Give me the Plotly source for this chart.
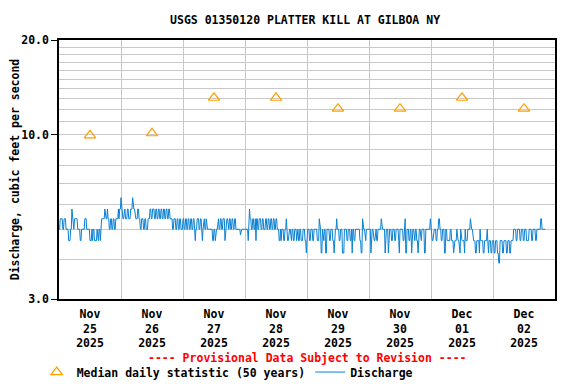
import numpy as np
import pandas as pd
import plotly.graph_objects as go

# ---- data ----
# discharge level codes (cfs) used by the 15-minute record
level_values = {"0": 3.9, "1": 4.2, "2": 4.6, "3": 4.8, "4": 5.0,
                "5": 5.2, "6": 5.4, "7": 5.8, "8": 6.3}

nov25 = ("4466664466" "6444422244" "7644666664" "4442244444" "6664444422"
         "2424422224" "2244266666" "6766676644" "6644664466" "667677")
nov26 = ("8776677666" "7766677787" "7766667766" "4466644664" "4466677667"
         "7766776677" "6677667766" "7766776666" "4466644664" "466444")
nov27 = ("6644664466" "4466446642" "4466644664" "2466446444" "4444442244"
         "2444664466" "4466624666" "4466446644" "6644444443" "444444")
nov28 = ("4444426766" "4466446266" "4466644664" "4466446644" "6644664466"
         "4442242444" "2244622244" "4224422444" "2442244222" "444221")
nov29 = ("4444224442" "2444442226" "4411422441" "1444422444" "2214446444"
         "2244411144" "4422444224" "1442244444" "4422116444" "224444")
nov30 = ("4441444222" "4422444446" "4444414444" "1444422444" "2244442144"
         "4442246114" "4422441444" "2244221444" "2244441144" "444446")
dec01 = ("4422444422" "4466442244" "4114422222" "4422212222" "4222114222"
         "2214222444" "4644422221" "1222214222" "2112222421" "222112")
dec02 = ("2211222110" "0222211222" "2112221122" "2244442244" "4422444224"
         "4422224444" "2244442244" "4444664444" "44")

discharge_codes = nov25 + nov26 + nov27 + nov28 + nov29 + nov30 + dec01 + dec02
discharge = [level_values[c] for c in discharge_codes]
discharge_time = pd.date_range("2025-11-25 00:00", periods=len(discharge), freq="15min")

median_dates = ["2025-11-25 12:00", "2025-11-26 12:00", "2025-11-27 12:00", "2025-11-28 12:00",
                "2025-11-29 12:00", "2025-11-30 12:00", "2025-12-01 12:00", "2025-12-02 12:00"]
median_values = [9.95, 10.1, 13.1, 13.1, 12.1, 12.1, 13.1, 12.1]

tick_dates = median_dates
tick_text = ["Nov<br>25<br>2025", "Nov<br>26<br>2025", "Nov<br>27<br>2025", "Nov<br>28<br>2025",
             "Nov<br>29<br>2025", "Nov<br>30<br>2025", "Dec<br>01<br>2025", "Dec<br>02<br>2025"]
grid_dates = ["2025-11-26", "2025-11-27", "2025-11-28", "2025-11-29",
              "2025-11-30", "2025-12-01", "2025-12-02"]
y_ticks = [3, 10, 20]
y_tick_text = ["3.0", "10.0", "20.0"]
y_grid = [3, 4, 5, 6, 7, 8, 9, 10, 11, 12, 13, 14, 15, 16, 17, 18, 19, 20]

FONT = "DejaVu Sans Mono"
FS = 11.5

fig = go.Figure()
fig.add_trace(go.Scatter(
    x=median_dates, y=median_values, mode="markers",
    name="Median daily statistic (50 years)",
    marker=dict(symbol="triangle-up-open", size=10, color="#FFA000",
                line=dict(width=1.2, color="#FFA000")),
))
fig.add_trace(go.Scatter(
    x=discharge_time, y=discharge, mode="lines", name="Discharge",
    line=dict(color="#0A80D2", width=1),
))

# page body has an 8px margin, so the figure is 8px smaller on each axis
fig.update_layout(
    width=568, height=376,
    margin=dict(l=51, r=21, t=32, b=85, autoexpand=False),
    paper_bgcolor="white", plot_bgcolor="white",
    font=dict(family=FONT, size=FS, color="black", weight="bold"),
    title=dict(text="USGS 01350120 PLATTER KILL AT GILBOA NY", x=0.523, xanchor="center",
               y=0.968, yanchor="middle",
               font=dict(family=FONT, size=FS, color="black", weight="bold")),
    showlegend=True,
    legend=dict(orientation="h", x=-0.045, xanchor="left", y=-0.282, yanchor="middle",
                font=dict(family=FONT, size=FS, color="black", weight="bold"),
                itemwidth=30, tracegroupgap=0, bgcolor="rgba(0,0,0,0)"),
)

fig.update_xaxes(
    range=["2025-11-25 00:00", "2025-12-03 00:00"],
    tickmode="array", tickvals=tick_dates, ticktext=tick_text,
    showgrid=False, ticks="", showline=True, linecolor="black", linewidth=1.5, mirror=True,
    minor=dict(tickmode="array", tickvals=grid_dates, showgrid=True,
               gridcolor="#C8C8C8", gridwidth=1, ticks=""),
    tickfont=dict(family=FONT, size=FS, color="black", weight="bold"),
    ticklabelstandoff=3,
    zeroline=False, automargin=False,
)
fig.update_yaxes(
    type="log", range=[np.log10(3), np.log10(20)],
    tickmode="array", tickvals=y_ticks, ticktext=y_tick_text,
    showgrid=True, gridcolor="#C8C8C8", gridwidth=1,
    minor=dict(tickmode="array", tickvals=y_grid, showgrid=True,
               gridcolor="#C8C8C8", gridwidth=1, ticks=""),
    ticks="outside", ticklen=6, tickcolor="black", tickwidth=1,
    showline=True, linecolor="black", linewidth=1.5, mirror=True,
    title=dict(text="Discharge, cubic feet per second", standoff=0,
               font=dict(family=FONT, size=FS, color="black", weight="bold")),
    tickfont=dict(family=FONT, size=FS, color="black", weight="bold"),
    zeroline=False, automargin=False,
)

fig.add_annotation(
    text="---- Provisional Data Subject to Revision ----",
    xref="paper", yref="paper", x=0.5, y=-0.228, xanchor="center", yanchor="middle",
    showarrow=False, font=dict(family=FONT, size=FS, color="red", weight="bold"),
)

fig.write_html("out.html")
